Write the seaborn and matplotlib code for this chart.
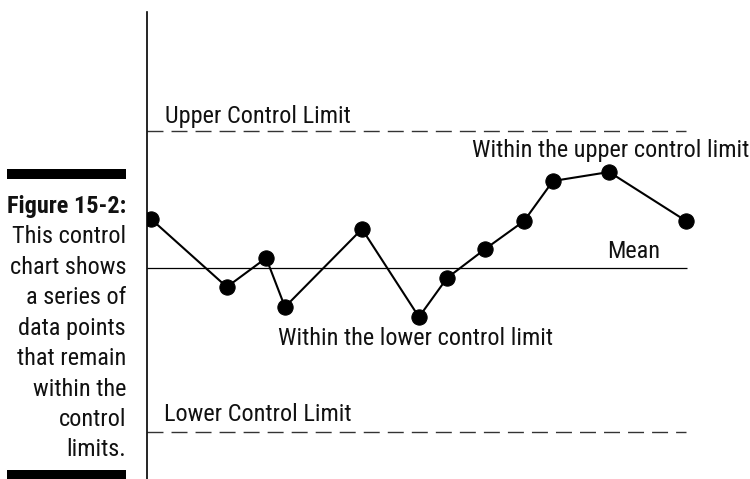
import matplotlib
matplotlib.use("Agg")
import matplotlib.pyplot as plt
from matplotlib.patches import Rectangle
import seaborn as sns
import pandas as pd

# Sample sequence (time position, measured value relative to the mean)
sample_x = [0, 1.97, 2.99, 3.48, 5.48, 6.96, 7.69, 8.68, 9.69, 10.44, 11.9, 13.9]
sample_y = [4.9, -1.9, 1.0, -3.9, 3.9, -4.9, -1.0, 1.9, 4.7, 8.7, 9.6, 4.7]

mean_value = 0.0
upper_limit = 13.7
lower_limit = -16.4

caption_title = "Figure 15-2:"
caption_lines = ["This control", "chart shows", "a series of", "data points",
                 "that remain", "within the", "control", "limits."]

df = pd.DataFrame({"t": sample_x, "value": sample_y})

sns.set_style("white")
plt.rcParams["font.family"] = ["Roboto Condensed", "DejaVu Sans"]
plt.rcParams["font.stretch"] = "condensed"
plt.rcParams["lines.scale_dashes"] = False

W, H = 750, 479
fig = plt.figure(figsize=(W / 100, H / 100), dpi=100)
ax = fig.add_axes([147 / W, 0, (W - 147) / W, (H - 12) / H])

px_per_x = 38.5
px_per_y = 10.0
ax.set_xlim(-4 / px_per_x, (W - 151) / px_per_x)
ax.set_ylim(mean_value - (H - 268) / px_per_y, mean_value + (268 - 12) / px_per_y)

line_end = (687 - 151) / px_per_x
dash_end = (686 - 151) / px_per_x
x0 = ax.get_xlim()[0]

# Centre line and control limits
ax.hlines(mean_value, x0, line_end, color="black", lw=0.9)
for lim in (upper_limit, lower_limit):
    ax.hlines(lim, x0, dash_end, color="#333333", lw=1.0,
              linestyles=[(0, (11.5, 5.8))])

# Data series
sns.lineplot(data=df, x="t", y="value", ax=ax, color="black", lw=1.5,
             marker="o", markersize=11, markeredgecolor="black",
             markerfacecolor="black", sort=False)

txt = dict(fontsize=17.5, color="#111111", va="baseline")
ax.text(0.36, 14.5, "Upper Control Limit", ha="left", **txt)
ax.text(0.34, -15.3, "Lower Control Limit", ha="left", **txt)
ax.text(8.34, 11.1, "Within the upper control limit", ha="left", **txt)
ax.text(11.84, 1.0, "Mean", ha="left", **txt)
ax.text(3.30, -7.7, "Within the lower control limit", ha="left", **txt)

# Axis styling: only the left spine is visible
for side in ("top", "right", "bottom"):
    ax.spines[side].set_visible(False)
ax.spines["left"].set_color("black")
ax.spines["left"].set_linewidth(1.2)
ax.set_xticks([])
ax.set_yticks([])
ax.set_xlabel("")
ax.set_ylabel("")
ax.patch.set_alpha(0)

# Side caption with black rules
fig.add_artist(Rectangle((7 / W, 1 - 179 / H), 119 / W, 10 / H,
                         transform=fig.transFigure, color="black", lw=0))
fig.add_artist(Rectangle((7 / W, 0), 119 / W, 9 / H,
                         transform=fig.transFigure, color="black", lw=0))

cap_x = 126 / W
cap_top = 206
spacing = 30.5
fig.text(cap_x, 1 - cap_top / H, caption_title, ha="right", va="center",
         fontsize=17.5, fontweight="bold", color="#111111")
for i, line in enumerate(caption_lines, start=1):
    fig.text(cap_x, 1 - (cap_top + i * spacing) / H, line, ha="right",
             va="center", fontsize=17.5, color="#111111")

fig.savefig("out.png", dpi=100)
